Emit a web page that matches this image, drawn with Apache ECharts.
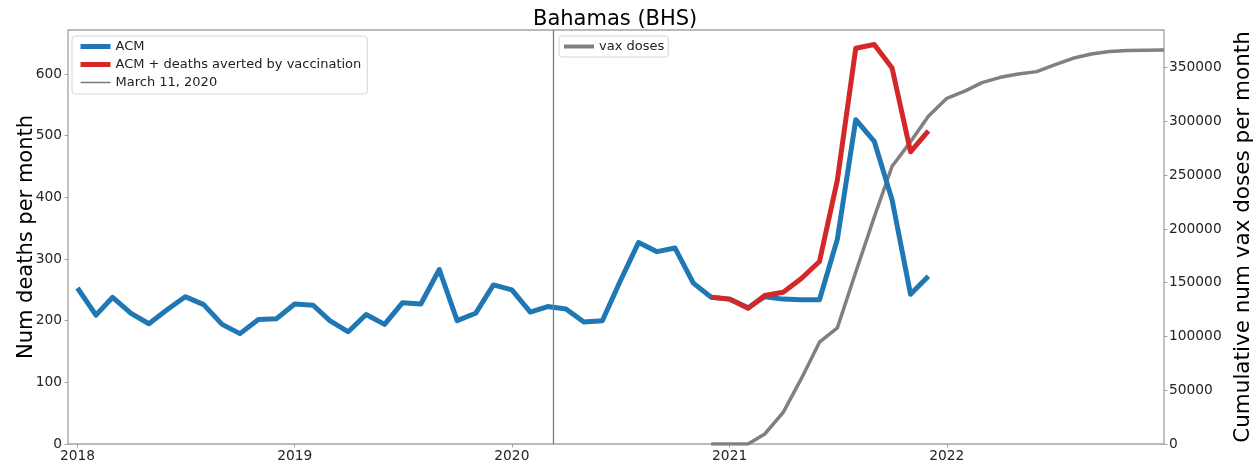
<!DOCTYPE html>
<html><head><meta charset="utf-8">
<script src="https://cdn.jsdelivr.net/npm/echarts@6/dist/echarts.min.js"></script>
<style>html,body{margin:0;padding:0;background:#fff}#c{width:1259px;height:470px}</style>
</head><body><div id="c"></div>
<script>
// ---- data ----
const chartTitle = 'Bahamas (BHS)';
const acmStart = [2018, 1];            // first month of ACM series
const acm = [
  253, 209, 238, 212, 195, 218, 239, 226, 194, 179, 202, 203,   // 2018
  227, 225, 200, 182, 210, 194, 229, 227, 283, 200, 212, 258,   // 2019
  250, 214, 223, 219, 198, 200, 264, 327, 312, 318, 261, 238,   // 2020
  235, 221, 239, 235, 234, 234, 332, 526, 491, 396, 243, 272    // 2021
];
const avertedStart = [2020, 12];
const acmPlusAverted = [238, 235, 220, 241, 246, 268, 296, 428, 642, 648, 610, 474, 508];
const vaxStart = [2020, 12];
const vaxDoses = [0, 0, 0, 9300, 29400, 60300, 94700, 108000, 160000, 211000, 258300,
  281000, 304800, 321500, 328400, 336000, 341000, 344000, 346300, 352500, 358700,
  362700, 365000, 365900, 366200, 366300];
const pandemicDate = [2020, 3, 11];
const xTickYears = [2018, 2019, 2020, 2021, 2022];
const leftTicks = [0, 100, 200, 300, 400, 500, 600];
const rightTicks = [0, 50000, 100000, 150000, 200000, 250000, 300000, 350000];
const seriesNames = ['ACM', 'ACM + deaths averted by vaccination', 'March 11, 2020', 'vax doses'];
const leftAxisName = 'Num deaths per month';
const rightAxisName = 'Cumulative num vax doses per month';

// ---- helpers ----
function monthly(start, vals) {
  return vals.map((v, i) => [new Date(start[0], start[1] - 1 + i, 1).getTime(), v]);
}
const yearTs = xTickYears.map(y => new Date(y, 0, 1).getTime());
const FONT = 'DejaVu Sans';
const SPINE = '#a3a3a3';
const tickLabel = { fontFamily: FONT, fontSize: 13.8, color: '#262626' };
const legendCommon = {
  orient: 'vertical', itemGap: 5, itemWidth: 30, itemHeight: 14,
  itemStyle: { opacity: 0 },
  borderColor: '#d6d6d6', borderWidth: 1, borderRadius: 3, backgroundColor: 'rgba(255,255,255,0.8)',
  textStyle: { fontFamily: FONT, fontSize: 13, color: '#222' }
};

const chart = echarts.init(document.getElementById('c'), null, { renderer: 'canvas' });
chart.setOption({
  animation: false,
  backgroundColor: '#fff',
  title: {
    text: chartTitle, left: 528, top: 4,
    textStyle: { fontFamily: FONT, fontSize: 21, fontWeight: 'normal', color: '#000' }
  },
  grid: {
    left: 68, right: 95, top: 30, bottom: 26, outerBoundsMode: 'none', containLabel: false,
    show: true, borderColor: SPINE, borderWidth: 1.3, backgroundColor: 'transparent'
  },
  legend: [
    Object.assign({}, legendCommon, {
      data: [
        { name: seriesNames[0], lineStyle: { width: 5 } },
        { name: seriesNames[1], lineStyle: { width: 5 } },
        { name: seriesNames[2], lineStyle: { width: 1.5 } }
      ],
      left: 72, top: 36, padding: [4, 6, 5, 6]
    }),
    Object.assign({}, legendCommon, {
      data: [{ name: seriesNames[3], lineStyle: { width: 4 } }],
      left: 559, top: 36, padding: [4, 4, 4, 3]
    })
  ],
  xAxis: {
    type: 'value',
    min: new Date(2017, 11, 16).getTime(),
    max: new Date(2023, 0, 1).getTime(),
    axisLine: { show: false },
    splitLine: { show: false },
    axisTick: { show: true, inside: false, length: 3.5, customValues: yearTs, lineStyle: { color: SPINE, width: 1 } },
    axisLabel: {
      ...tickLabel, margin: 5, customValues: yearTs,
      formatter: v => String(new Date(v).getFullYear())
    }
  },
  yAxis: [
    {
      type: 'value', position: 'left', min: 0, max: 671.5,
      name: leftAxisName, nameLocation: 'middle', nameGap: 31, nameMoveOverlap: false,
      nameTextStyle: { fontFamily: FONT, fontSize: 21, color: '#000' },
      axisLine: { show: false }, splitLine: { show: false },
      axisTick: { show: true, length: 3.5, customValues: leftTicks, lineStyle: { color: SPINE, width: 1 } },
      axisLabel: { ...tickLabel, margin: 6, customValues: leftTicks, formatter: v => String(v) }
    },
    {
      type: 'value', position: 'right', min: 0, max: 385000,
      name: rightAxisName, nameLocation: 'middle', nameGap: 64,
      nameTextStyle: { fontFamily: FONT, fontSize: 21.5, color: '#000' },
      axisLine: { show: false }, splitLine: { show: false },
      axisTick: { show: true, length: 3.5, customValues: rightTicks, lineStyle: { color: SPINE, width: 1 } },
      axisLabel: { ...tickLabel, margin: 5, customValues: rightTicks, formatter: v => String(v) }
    }
  ],
  series: [
    {
      name: seriesNames[3], type: 'line', yAxisIndex: 1, data: monthly(vaxStart, vaxDoses),
      showSymbol: false, symbol: 'none', color: '#808080', z: 2,
      lineStyle: { width: 3.5, color: '#808080', join: 'round' }
    },
    {
      name: seriesNames[0], type: 'line', data: monthly(acmStart, acm),
      showSymbol: false, symbol: 'none', color: '#1f77b4', z: 3,
      lineStyle: { width: 5, color: '#1f77b4', join: 'round' }
    },
    {
      name: seriesNames[1], type: 'line', data: monthly(avertedStart, acmPlusAverted),
      showSymbol: false, symbol: 'none', color: '#d62728', z: 4,
      lineStyle: { width: 5, color: '#d62728', join: 'round' }
    },
    {
      name: seriesNames[2], type: 'line', data: [], symbol: 'none', color: '#7a7a7a', z: 1,
      lineStyle: { width: 1.5, color: '#7a7a7a' },
      markLine: {
        silent: true, symbol: 'none', label: { show: false },
        lineStyle: { color: '#7a7a7a', width: 1.3, type: 'solid' },
        data: [{ xAxis: new Date(pandemicDate[0], pandemicDate[1] - 1, pandemicDate[2]).getTime() }]
      }
    }
  ]
});
</script>
</body></html>
